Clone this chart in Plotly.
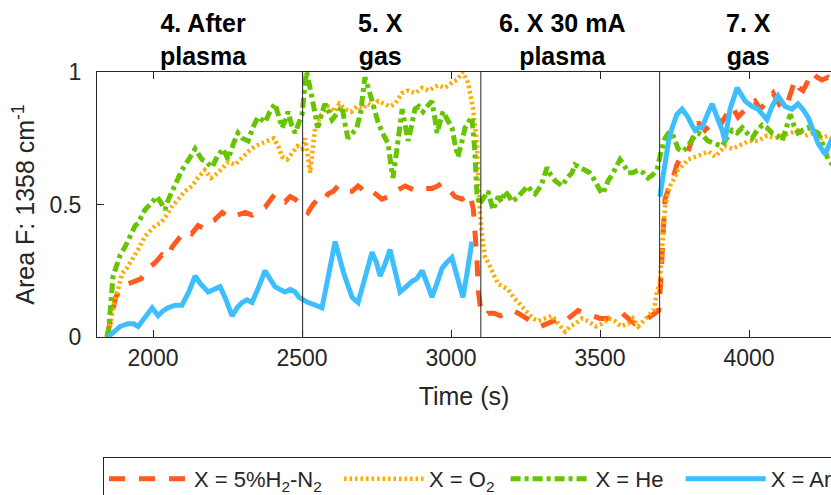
import plotly.graph_objects as go

# ---------------- data ----------------
h2n2_t = [1845, 1855, 1865, 1875, 1885, 1900, 1915, 1940, 1960, 1985, 2007, 2030, 2050, 2064, 2085,
          2107, 2130, 2151, 2170, 2185, 2205, 2232, 2255, 2285, 2310, 2332, 2355, 2376, 2395, 2409,
          2425, 2443, 2460, 2477, 2495,
          2510, 2520, 2537, 2553, 2570, 2587, 2605, 2621, 2645, 2668, 2688, 2710, 2725, 2745, 2768,
          2790, 2812, 2830, 2846, 2865, 2889, 2910, 2936, 2955, 2970, 2990, 3013, 3037, 3050, 3064,
          3075, 3080, 3087, 3092,
          3100, 3115, 3124, 3145, 3165, 3185, 3205, 3225, 3250, 3265, 3282, 3300, 3320, 3349, 3365,
          3383, 3405, 3426, 3450, 3473, 3500, 3527, 3550, 3574, 3595, 3617, 3640, 3660, 3684, 3697,
          3703, 3708, 3713, 3718, 3730, 3742, 3758, 3775, 3795, 3810, 3829, 3852, 3870, 3886, 3909,
          3925, 3943, 3963, 3980, 3997, 4020, 4037, 4054, 4081, 4095, 4111, 4131, 4154, 4168, 4181,
          4195, 4211, 4228, 4245, 4265, 4280]
h2n2_v = [0.00, 0.05, 0.10, 0.15, 0.17, 0.19, 0.20, 0.21, 0.22, 0.26, 0.28, 0.31, 0.30, 0.34, 0.37,
          0.40, 0.39, 0.42, 0.41, 0.43, 0.44, 0.47, 0.45, 0.46, 0.47, 0.46, 0.48, 0.49, 0.52, 0.54,
          0.52, 0.51, 0.53, 0.52, 0.50,
          0.48, 0.47, 0.50, 0.52, 0.51, 0.54, 0.55, 0.57, 0.55, 0.55, 0.57, 0.55, 0.56, 0.54, 0.52,
          0.53, 0.55, 0.56, 0.57, 0.56, 0.55, 0.56, 0.56, 0.57, 0.58, 0.56, 0.53, 0.52, 0.53, 0.54,
          0.48, 0.42, 0.29, 0.17,
          0.10, 0.08, 0.09, 0.09, 0.08, 0.09, 0.10, 0.09, 0.07, 0.06, 0.05, 0.04, 0.05, 0.06, 0.07,
          0.06, 0.08, 0.10, 0.09, 0.08, 0.07, 0.07, 0.08, 0.09, 0.07, 0.05, 0.06, 0.07, 0.09, 0.10,
          0.20, 0.29, 0.40, 0.52, 0.56, 0.59, 0.65, 0.69, 0.70, 0.75, 0.81, 0.78, 0.80, 0.83, 0.81,
          0.84, 0.87, 0.83, 0.85, 0.87, 0.89, 0.86, 0.88, 0.92, 0.89, 0.86, 0.89, 0.97, 0.94, 0.93,
          0.96, 1.00, 0.98, 0.97, 0.98, 0.97]

o2_t = [1845, 1855, 1865, 1872, 1885, 1896, 1912, 1930, 1950, 1973, 1990, 2007, 2025, 2040, 2062,
        2084, 2107, 2131, 2150, 2174, 2195, 2218, 2235, 2252, 2275, 2299, 2320, 2342, 2365, 2386,
        2405, 2420, 2433, 2450, 2466, 2485, 2500,
        2510, 2520, 2527, 2535, 2544, 2565, 2587, 2610, 2625, 2644, 2665, 2685, 2701, 2720, 2738,
        2755, 2775, 2795, 2812, 2835, 2856, 2880, 2903, 2925, 2956, 2980, 3003, 3020, 3040, 3057,
        3074, 3087, 3093,
        3100, 3108, 3114, 3125, 3138, 3150, 3158, 3175, 3191, 3210, 3225, 3240, 3258, 3275, 3292,
        3315, 3339, 3360, 3383, 3400, 3416, 3440, 3460, 3485, 3507, 3530, 3550, 3570, 3594, 3610,
        3628, 3645, 3661, 3680, 3691,
        3700, 3706, 3711, 3718, 3727, 3735, 3750, 3762, 3780, 3795, 3820, 3842, 3865, 3886, 3905,
        3919, 3945, 3977, 4000, 4030, 4060, 4087, 4115, 4144, 4165, 4188, 4215, 4245, 4265, 4280]
o2_v = [0.00, 0.04, 0.10, 0.14, 0.19, 0.24, 0.26, 0.29, 0.33, 0.38, 0.40, 0.42, 0.43, 0.45, 0.49,
        0.52, 0.55, 0.57, 0.60, 0.63, 0.60, 0.62, 0.64, 0.66, 0.65, 0.68, 0.70, 0.72, 0.73, 0.74,
        0.75, 0.72, 0.68, 0.67, 0.69, 0.72, 0.71,
        0.75, 0.68, 0.62, 0.70, 0.79, 0.84, 0.87, 0.85, 0.88, 0.86, 0.85, 0.87, 0.86, 0.88, 0.87,
        0.89, 0.88, 0.87, 0.88, 0.92, 0.93, 0.92, 0.94, 0.93, 0.95, 0.94, 0.96, 0.97, 1.00, 0.96,
        0.86, 0.73, 0.55,
        0.42, 0.35, 0.30, 0.28, 0.25, 0.22, 0.20, 0.19, 0.18, 0.15, 0.13, 0.11, 0.09, 0.07, 0.06,
        0.07, 0.08, 0.05, 0.02, 0.04, 0.05, 0.07, 0.06, 0.04, 0.05, 0.07, 0.06, 0.04, 0.05, 0.07,
        0.04, 0.06, 0.08, 0.10, 0.17,
        0.20, 0.30, 0.40, 0.49, 0.54, 0.57, 0.60, 0.63, 0.65, 0.67, 0.68, 0.69, 0.70, 0.68, 0.70,
        0.72, 0.71, 0.73, 0.74, 0.74, 0.76, 0.75, 0.76, 0.77, 0.78, 0.76, 0.77, 0.75, 0.76, 0.75]

he_t = [1849, 1858, 1866, 1875, 1890, 1906, 1918, 1930, 1940, 1950, 1962, 1973, 1990, 2013, 2025,
        2040, 2052, 2064, 2080, 2097, 2120, 2141, 2164, 2180, 2198, 2215, 2235, 2252, 2270, 2285,
        2300, 2319, 2335, 2352, 2365, 2376, 2392, 2409, 2420, 2433, 2445, 2453, 2465, 2477, 2490,
        2500,
        2508, 2515, 2525, 2535, 2545, 2553, 2565, 2577, 2590, 2601, 2615, 2634, 2645, 2654, 2670,
        2684, 2697, 2711, 2725, 2738, 2755, 2770, 2789, 2797, 2805, 2815, 2825, 2836, 2846, 2856,
        2868, 2879, 2892, 2906, 2920, 2936, 2945, 2953, 2963, 2973, 2988, 3003, 3013, 3023, 3035,
        3047, 3058, 3070, 3080, 3087, 3095,
        3107, 3124, 3141, 3158, 3170, 3181, 3195, 3205, 3225, 3240, 3258, 3270, 3282, 3295, 3305,
        3322, 3335, 3349, 3360, 3372, 3390, 3406, 3416, 3435, 3450, 3465, 3477, 3492, 3507, 3517,
        3527, 3540, 3550, 3567, 3580, 3594, 3610, 3628, 3645, 3661, 3675, 3691,
        3705, 3718, 3730, 3742, 3752, 3762, 3778, 3795, 3812, 3829, 3845, 3862, 3885, 3909, 3925,
        3943, 3960, 3977, 3993, 4010, 4027, 4044, 4060, 4077, 4095, 4111, 4125, 4138, 4150, 4164,
        4180, 4198, 4215, 4232, 4250, 4265, 4280]
he_v = [0.00, 0.12, 0.23, 0.26, 0.31, 0.34, 0.37, 0.39, 0.42, 0.43, 0.46, 0.48, 0.50, 0.53, 0.51,
        0.48, 0.52, 0.55, 0.59, 0.63, 0.67, 0.71, 0.67, 0.66, 0.64, 0.68, 0.71, 0.67, 0.73, 0.77,
        0.75, 0.74, 0.79, 0.83, 0.82, 0.81, 0.85, 0.88, 0.84, 0.79, 0.82, 0.85, 0.80, 0.77, 0.81,
        0.84,
        0.93, 1.00, 0.95, 0.90, 0.83, 0.79, 0.84, 0.88, 0.85, 0.82, 0.84, 0.87, 0.80, 0.75, 0.77,
        0.79, 0.85, 0.98, 0.93, 0.88, 0.81, 0.77, 0.73, 0.66, 0.60, 0.68, 0.78, 0.86, 0.80, 0.74,
        0.80, 0.86, 0.87, 0.85, 0.87, 0.89, 0.83, 0.77, 0.81, 0.85, 0.82, 0.79, 0.73, 0.68, 0.73,
        0.79, 0.81, 0.83, 0.70, 0.54, 0.50,
        0.52, 0.55, 0.48, 0.53, 0.51, 0.55, 0.53, 0.51, 0.53, 0.55, 0.57, 0.55, 0.54, 0.56, 0.58,
        0.64, 0.61, 0.59, 0.58, 0.57, 0.60, 0.62, 0.65, 0.64, 0.63, 0.62, 0.60, 0.57, 0.54, 0.56,
        0.59, 0.61, 0.63, 0.67, 0.65, 0.62, 0.62, 0.63, 0.62, 0.60, 0.61, 0.63,
        0.70, 0.75, 0.77, 0.77, 0.74, 0.71, 0.70, 0.72, 0.75, 0.77, 0.76, 0.74, 0.73, 0.72, 0.75,
        0.78, 0.77, 0.79, 0.77, 0.75, 0.78, 0.80, 0.79, 0.77, 0.76, 0.74, 0.79, 0.84, 0.80, 0.77,
        0.78, 0.79, 0.78, 0.77, 0.72, 0.67, 0.65]

ar_t = [1849, 1870, 1890, 1916, 1935, 1950, 1970, 1997, 2017, 2035, 2050, 2075, 2097, 2120, 2141,
        2160, 2185, 2205, 2225, 2245, 2265, 2282, 2299, 2315, 2332, 2355, 2376, 2392, 2409, 2425,
        2443, 2460, 2477, 2490, 2502,
        2520, 2545, 2567, 2590, 2611, 2640, 2668, 2688, 2712, 2735, 2750, 2762, 2780, 2795, 2812,
        2829, 2850, 2869, 2885, 2903, 2920, 2936, 2955, 2970, 2985, 3003, 3020, 3040, 3055, 3070,
        3400,
        3701, 3710, 3718, 3730, 3742, 3758, 3775, 3795, 3808, 3819, 3830, 3842, 3860, 3876, 3896,
        3910, 3919, 3936, 3960, 3975, 3987, 4010, 4030, 4045, 4060, 4077, 4097, 4121, 4144, 4164,
        4180, 4198, 4215, 4232, 4255, 4275, 4290]
ar_v = [0.00, 0.02, 0.04, 0.05, 0.05, 0.04, 0.07, 0.11, 0.08, 0.10, 0.11, 0.12, 0.12, 0.17, 0.23,
        0.20, 0.17, 0.18, 0.19, 0.14, 0.08, 0.11, 0.13, 0.14, 0.13, 0.19, 0.25, 0.22, 0.19, 0.18,
        0.17, 0.18, 0.17, 0.15, 0.14,
        0.13, 0.12, 0.11, 0.24, 0.36, 0.24, 0.15, 0.13, 0.22, 0.32, 0.28, 0.23, 0.28, 0.33, 0.25,
        0.17, 0.19, 0.21, 0.22, 0.25, 0.20, 0.15, 0.21, 0.26, 0.28, 0.30, 0.23, 0.15, 0.25, 0.36,
        None,
        0.53, 0.60, 0.67, 0.74, 0.79, 0.84, 0.86, 0.83, 0.80, 0.78, 0.79, 0.79, 0.84, 0.88, 0.82,
        0.78, 0.74, 0.86, 0.94, 0.91, 0.89, 0.87, 0.86, 0.84, 0.82, 0.87, 0.91, 0.87, 0.86, 0.88,
        0.86, 0.83, 0.78, 0.73, 0.69, 0.74, 0.76]

NB = "\u00a0"
series_names = ["X = 5%H<sub>2</sub>-N<sub>2</sub>" + NB * 2, "X = O<sub>2</sub>" + NB,
                "X = He" + NB * 2, "X = Ar"]
stage_bounds = [2502, 3100, 3700]
stage_labels = ["<b>4. After</b><br><b>plasma</b>", "<b>5. X</b><br><b>gas</b>",
                "<b>6. X 30 mA</b><br><b>plasma</b>", "<b>7. X</b><br><b>gas</b>"]
stage_label_x = [2168, 2762, 3372, 3997]
x_ticks = [2000, 2500, 3000, 3500, 4000]
y_ticks = [0, 0.5, 1]
y_tick_text = ["0", "0.5", "1"]

# ---------------- figure ----------------
FONT = "Liberation Sans, Arial, Helvetica, sans-serif"
INK = "#262626"

fig = go.Figure()
fig.add_trace(go.Scatter(x=h2n2_t, y=h2n2_v, mode="lines", name=series_names[0],
                         line=dict(color="#FF5A1F", width=5, dash="16px,14px")))
fig.add_trace(go.Scatter(x=o2_t, y=o2_v, mode="lines", name=series_names[1],
                         line=dict(color="#FFAA00", width=4.5, dash="2.5px,3px")))
fig.add_trace(go.Scatter(x=he_t, y=he_v, mode="lines", name=series_names[2],
                         line=dict(color="#66C400", width=5, dash="10px,4px,4px,4px")))
fig.add_trace(go.Scatter(x=ar_t, y=ar_v, mode="lines", name=series_names[3],
                         connectgaps=False,
                         line=dict(color="#3DBEFF", width=5)))

for b in stage_bounds:
    fig.add_shape(type="line", xref="x", yref="paper", x0=b, x1=b, y0=0, y1=1,
                  line=dict(color=INK, width=1), layer="above")

for lx, lt in zip(stage_label_x, stage_labels):
    fig.add_annotation(x=lx, xref="x", y=1.121, yref="paper", text=lt, showarrow=False,
                       xanchor="center", yanchor="middle",
                       font=dict(family=FONT, size=25, color="#000000"))

fig.update_layout(
    width=831, height=495,
    margin=dict(l=97, r=0, t=72, b=158, autoexpand=False),
    paper_bgcolor="white", plot_bgcolor="white",
    font=dict(family=FONT, size=22, color=INK),
    showlegend=True,
    hovermode=False,
    legend=dict(orientation="h", x=0.0082, xanchor="left", y=-0.4530, yanchor="top",
                bordercolor=INK, borderwidth=1, bgcolor="white",
                font=dict(family=FONT, size=22, color=INK),
                itemwidth=80, traceorder="normal"),
)
fig.update_xaxes(range=[1812, 4275], tickvals=x_ticks, ticks="inside", ticklen=7,
                 tickcolor=INK, showline=True, linecolor=INK, linewidth=1, mirror="ticks",
                 showgrid=False, zeroline=False,
                 tickfont=dict(family=FONT, size=23, color=INK),
                 title=dict(text="Time (s)", font=dict(family=FONT, size=25, color=INK), standoff=17))
fig.update_yaxes(range=[0, 1], tickvals=y_ticks, ticktext=y_tick_text, ticks="inside", ticklen=7,
                 tickcolor=INK, showline=True, linecolor=INK, linewidth=1, mirror=False,
                 showgrid=False, zeroline=False, ticklabelstandoff=10,
                 tickfont=dict(family=FONT, size=23, color=INK),
                 title=dict(text="Area F: 1358 cm<sup>-1</sup>",
                            font=dict(family=FONT, size=25, color=INK), standoff=7))

fig.write_html("out.html", config={"displayModeBar": False},
               post_script="document.body.style.margin='0';document.body.style.overflow='hidden';")
